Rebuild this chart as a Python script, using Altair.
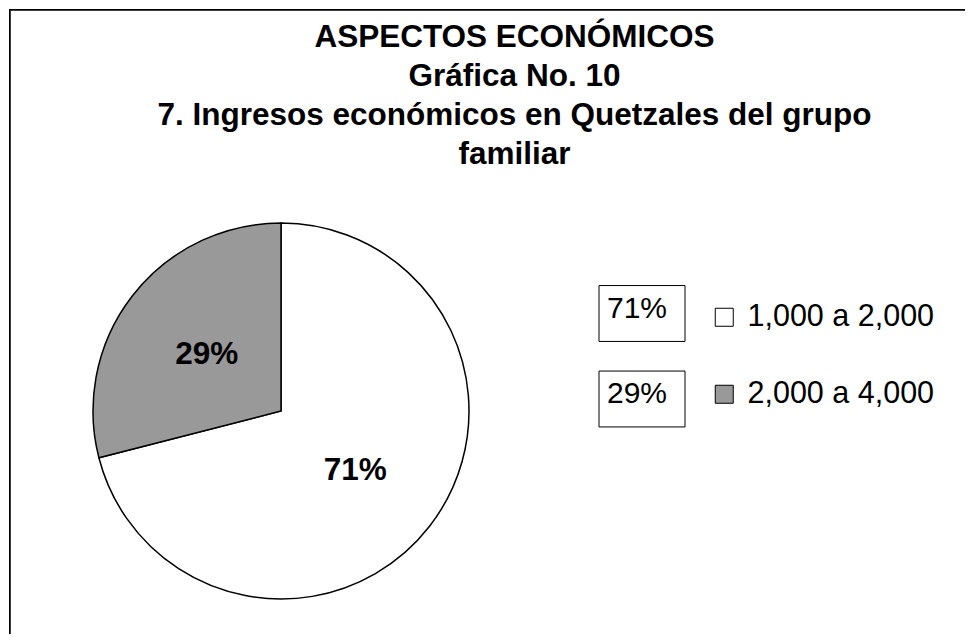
import altair as alt
import pandas as pd

categories = ["1,000 a 2,000", "2,000 a 4,000"]
values = [71, 29]
pct_labels = ["71%", "29%"]
colors = ["#FFFFFF", "#999999"]

title_lines = [
    "ASPECTOS ECONÓMICOS",
    "Gráfica No. 10",
    "7. Ingresos económicos en Quetzales del grupo",
    "familiar",
]

df = pd.DataFrame({"cat": categories, "value": values, "label": pct_labels,
                   "order": list(range(len(categories)))})

W, H = 957, 626
CX, CY, R = 272, 402, 188
FONT = "Liberation Sans"

base = alt.Chart(df)

pie = base.mark_arc(radius=R, stroke="black", strokeWidth=1.5, opacity=1).encode(
    theta=alt.Theta("value:Q", stack=True),
    color=alt.Color(
        "cat:N",
        scale=alt.Scale(domain=categories, range=colors),
        legend=alt.Legend(
            orient="none", legendX=700, legendY=293, title=None,
            symbolType="square", symbolSize=324, symbolStrokeColor="black",
            symbolStrokeWidth=1, symbolOpacity=1,
            labelFontSize=30.5, labelFont=FONT, labelColor="black",
            labelOffset=8, rowPadding=46, padding=0, labelLimit=400,
        ),
    ),
    order=alt.Order("order:Q"),
    x=alt.value(CX),
    y=alt.value(CY),
)

pie_text = base.mark_text(radius=94, fontSize=31.5, fontWeight="bold", font=FONT,
                          color="black", baseline="middle", align="center", dy=2).encode(
    theta=alt.Theta("value:Q", stack=True),
    detail="cat:N",
    order=alt.Order("order:Q"),
    text="label:N",
    x=alt.value(CX),
    y=alt.value(CY),
)

box_scale = alt.Scale(domain=categories, range=[304.5, 390], padding=0)

boxes = base.mark_point(shape="M-1,-0.65H1V0.65H-1Z", size=86 * 86, filled=False,
                        stroke="black", strokeWidth=1, opacity=1).encode(
    x=alt.value(633),
    y=alt.Y("cat:N", scale=box_scale, axis=None),
)

box_text = base.mark_text(align="left", baseline="alphabetic", fontSize=30, font=FONT,
                          color="black", dy=4).encode(
    x=alt.value(598),
    y=alt.Y("cat:N", scale=box_scale, axis=None),
    text="label:N",
)

border_left = base.mark_rule(color="black", strokeWidth=1.5).encode(
    x=alt.value(0.75), y=alt.value(0), y2=alt.value(H)
)
border_top = base.mark_rule(color="black", strokeWidth=1.5).encode(
    y=alt.value(0.75), x=alt.value(0), x2=alt.value(W)
)

chart = alt.layer(border_left, border_top, pie, pie_text, boxes, box_text).properties(
    width=W,
    height=H,
    autosize=alt.AutoSizeParams(type="fit", contains="padding"),
    padding=0,
    title=alt.TitleParams(
        text=title_lines, fontSize=31.5, font=FONT, fontWeight="bold", color="black",
        lineHeight=39, anchor="middle", dx=28, offset=-162,
    ),
).configure(background="white", view=alt.ViewConfig(stroke=None))

chart.save("out.html", embed_options={"renderer": "svg", "actions": False})
